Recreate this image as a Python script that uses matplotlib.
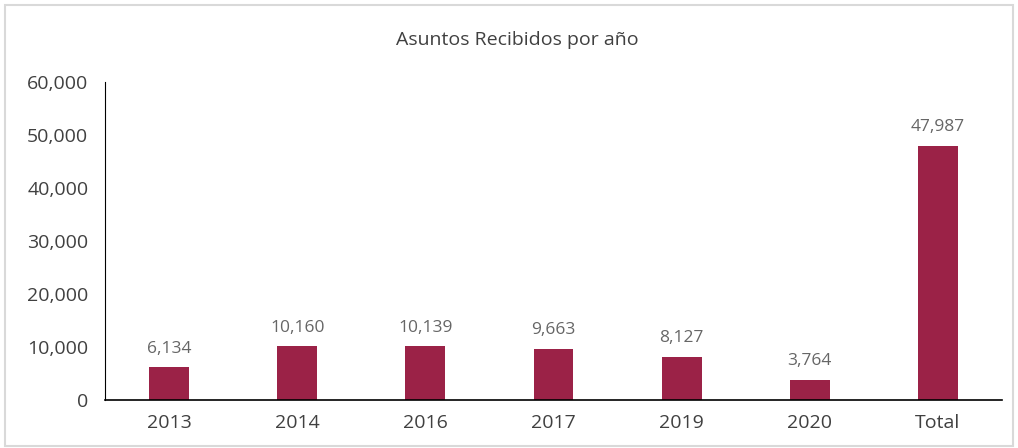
import matplotlib
matplotlib.use("Agg")
import matplotlib.pyplot as plt
from matplotlib.patches import Rectangle

categories = ["2013", "2014", "2016", "2017", "2019", "2020", "Total"]
values = [6134, 10160, 10139, 9663, 8127, 3764, 47987]
yticks = [0, 10000, 20000, 30000, 40000, 50000, 60000]

plt.rcParams['font.family'] = ['Open Sans', 'DejaVu Sans']

fig = plt.figure(figsize=(10.18, 4.48), dpi=100)
fig.patches.append(Rectangle((5/1018, 2/448), 1008/1018, 441/448, transform=fig.transFigure,
                             fill=False, edgecolor='#d9d9d9', linewidth=1.5))
ax = fig.add_axes([105/1018, 1 - 400/448, 897/1018, 318/448])

x = range(len(categories))
bars = ax.bar(x, values, width=0.31, color='#9B2247')
for xi, v in zip(x, values):
    ax.text(xi, v + 2000, f"{v:,}", ha='center', va='bottom', fontsize=12.5, color='#666666')

ax.set_xlim(-0.5, len(categories) - 0.5)
ax.set_ylim(0, 60000)
ax.set_yticks(yticks)
ax.set_yticklabels([f"{t:,}" for t in yticks], fontsize=14, color='#404040')
ax.set_xticks(list(x))
ax.set_xticklabels(categories, fontsize=14, color='#404040')
ax.tick_params(axis='both', length=0)
ax.tick_params(axis='y', pad=12)
ax.tick_params(axis='x', pad=10)
for s in ['top', 'right']:
    ax.spines[s].set_visible(False)
ax.spines['left'].set_color('black')
ax.spines['bottom'].set_color('black')
ax.spines['bottom'].set_linewidth(1.2)

fig.text(0.508, 1 - 40/448, "Asuntos Recibidos por año", ha='center', va='center',
         fontsize=14, color='#404040')

fig.savefig("out.png", dpi=100)
